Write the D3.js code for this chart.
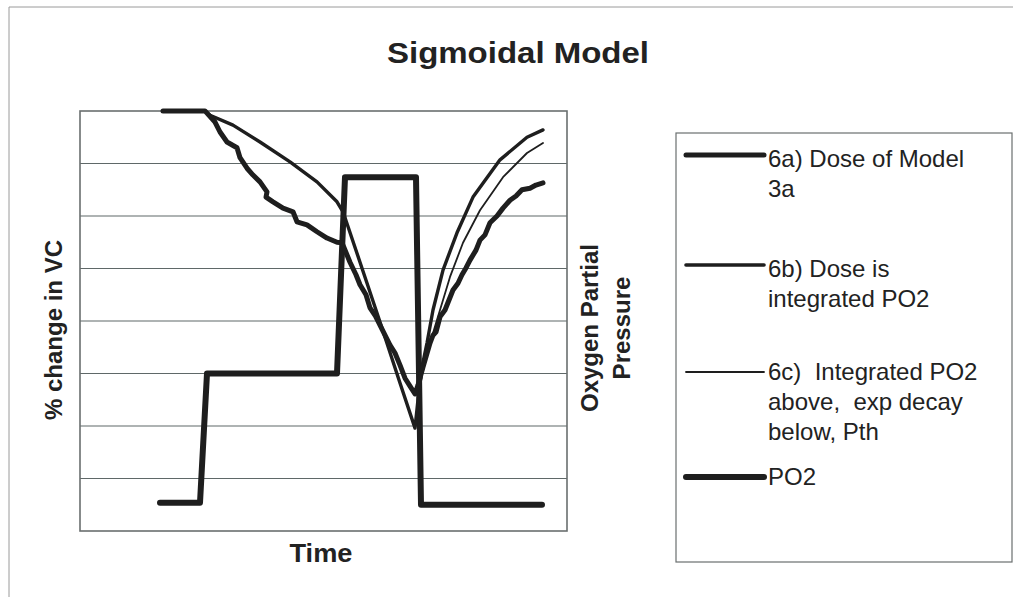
<!DOCTYPE html>
<html>
<head>
<meta charset="utf-8">
<script src="https://cdn.jsdelivr.net/npm/d3@7"></script>
<style>
  html, body { margin: 0; padding: 0; background: #fff; }
  svg { display: block; }
  text { font-family: "Liberation Sans", Arial, sans-serif; fill: #222; }
</style>
</head>
<body>
<svg id="chart" width="1013" height="597"></svg>
<script>
// Time axis (arbitrary units) and % change in vital capacity
const gridValues = [-70, -60, -50, -40, -30, -20, -10];

// 6a) Dose of Model 3a
const time6a = [16.6, 25.0, 25.4, 27.0, 28.0, 29.4, 31.4, 32.0, 33.4, 34.6, 36.0, 37.4, 37.2, 38.6, 40.6,
  42.6, 43.4, 45.4, 47.4, 49.4, 51.4, 52.4, 54.0, 55.2, 56.0, 57.2, 58.0, 59.0, 60.0, 61.0, 62.0, 63.0,
  64.0, 65.0, 66.0, 67.0, 67.6, 68.6, 70.0, 70.6, 71.2, 72.0, 73.0, 73.8, 74.6, 75.6, 76.4, 77.2, 78.0,
  79.2, 80.0, 81.0, 82.0, 83.4, 84.6, 86.0, 87.2, 88.4, 90.0, 91.2, 92.6];
const vc6a = [0, 0, -0.4, -2.1, -4.0, -5.9, -7.0, -8.9, -10.9, -12.2, -13.5, -15.4, -16.4, -17.3, -18.5,
  -19.2, -21.1, -21.7, -23.0, -24.2, -25.0, -25.1, -28.8, -31.2, -33.1, -35.0, -37.5, -38.9, -40.8, -42.7,
  -44.6, -46.1, -48.4, -50.9, -52.4, -53.9, -52.2, -48.8, -44.2, -42.7, -42.1, -39.2, -37.9, -36.0, -34.1,
  -32.8, -31.2, -29.9, -28.4, -26.5, -24.6, -23.6, -21.3, -20.0, -18.5, -17.0, -16.2, -15.0, -14.7, -14.1, -13.7];

// 6b) Dose is integrated PO2
const time6b = [16.6, 25.0, 26.0, 30.6, 36.0, 42.0, 47.4, 51.4, 52.6, 56.0, 60.0, 64.0, 67.0, 67.6,
  68.4, 69.4, 70.6, 72.6, 75.4, 78.6, 84.0, 89.4, 92.6];
const vc6b = [0, 0, -0.8, -2.7, -5.9, -9.7, -13.5, -17.3, -19.2, -28.8, -40.2, -51.8, -60.4, -55.0,
  -48.8, -44.2, -37.9, -30.3, -23.2, -16.4, -9.3, -5.0, -3.6];

// 6c) Integrated PO2 above, exp decay below, Pth
const time6c = [16.6, 25.0, 26.0, 30.6, 36.0, 42.0, 47.4, 51.4, 52.6, 56.0, 60.0, 64.0, 67.0, 67.8,
  68.4, 70.0, 72.0, 74.0, 76.6, 80.0, 84.6, 89.4, 92.6];
const vc6c = [0, 0, -0.8, -2.7, -5.9, -9.7, -13.5, -17.3, -19.2, -28.8, -40.2, -51.8, -60.4, -54.1,
  -50.3, -44.2, -37.9, -31.6, -25.1, -18.9, -12.6, -8.0, -6.1];

// Oxygen partial pressure (secondary axis)
const timePO2 = [16.0, 24.0, 25.4, 51.4, 53.0, 67.2, 68.2, 92.4];
const valPO2 = [0.27, 0.27, 1.50, 1.50, 3.37, 3.37, 0.25, 0.25];

const legendLabels = [
  ["6a) Dose of Model", "3a"],
  ["6b) Dose is", "integrated PO2"],
  ["6c)  Integrated PO2", "above,  exp decay", "below, Pth"],
  ["PO2"]
];

const ink = "#1e1e1e";
const svg = d3.select("#chart");

// outer chart border (top and left edges)
svg.append("path")
  .attr("d", "M9,597 L9,7 L1013,7")
  .attr("fill", "none").attr("stroke", "#9a9a9a").attr("stroke-width", 1);

const plot = { left: 80, right: 567, top: 111, bottom: 531 };
const x = d3.scaleLinear().domain([0, 97.4]).range([plot.left, plot.right]);
const y = d3.scaleLinear().domain([-80, 0]).range([plot.bottom, plot.top]);
const y2 = d3.scaleLinear().domain([0, 4]).range([plot.bottom, plot.top]);

// horizontal gridlines
svg.append("g").selectAll("line").data(gridValues).join("line")
  .attr("x1", plot.left).attr("x2", plot.right)
  .attr("y1", d => y(d)).attr("y2", d => y(d))
  .attr("stroke", "#5f6868").attr("stroke-width", 1.2);

// plot frame
svg.append("rect")
  .attr("x", plot.left).attr("y", plot.top)
  .attr("width", plot.right - plot.left).attr("height", plot.bottom - plot.top)
  .attr("fill", "none").attr("stroke", "#6a6f6f").attr("stroke-width", 1.6);

const line = d3.line().x(d => x(d[0])).y(d => y(d[1]));
const line2 = d3.line().x(d => x(d[0])).y(d => y2(d[1]));

const series = [
  { t: timePO2, v: valPO2, w: 6, gen: line2 },
  { t: time6c, v: vc6c, w: 1.8, gen: line },
  { t: time6b, v: vc6b, w: 3.4, gen: line },
  { t: time6a, v: vc6a, w: 5, gen: line }
];
series.forEach(s => {
  svg.append("path")
    .datum(d3.zip(s.t, s.v))
    .attr("d", s.gen)
    .attr("fill", "none")
    .attr("stroke", ink)
    .attr("stroke-width", s.w)
    .attr("stroke-linejoin", "round")
    .attr("stroke-linecap", "round");
});

// title
svg.append("text")
  .attr("x", 518).attr("y", 63)
  .attr("text-anchor", "middle")
  .attr("font-size", 30).attr("font-weight", "bold")
  .attr("textLength", 262).attr("lengthAdjust", "spacingAndGlyphs")
  .text("Sigmoidal Model");

// x axis title
svg.append("text")
  .attr("x", 321).attr("y", 562)
  .attr("text-anchor", "middle")
  .attr("font-size", 25).attr("font-weight", "bold")
  .attr("textLength", 63).attr("lengthAdjust", "spacingAndGlyphs")
  .text("Time");

// left axis title
svg.append("text")
  .attr("transform", "translate(62,330) rotate(-90)")
  .attr("text-anchor", "middle")
  .attr("font-size", 24).attr("font-weight", "bold")
  .text("% change in VC");

// right axis title
const rt = svg.append("text")
  .attr("transform", "translate(598,328) rotate(-90)")
  .attr("text-anchor", "middle")
  .attr("font-size", 24).attr("font-weight", "bold");
rt.append("tspan").attr("x", 0).attr("dy", 0).text("Oxygen Partial");
rt.append("tspan").attr("x", 0).attr("dy", 32).text("Pressure");

// legend
svg.append("rect")
  .attr("x", 676).attr("y", 133)
  .attr("width", 336).attr("height", 429)
  .attr("fill", "none").attr("stroke", "#6a6f6f").attr("stroke-width", 1.2);

const legendY = [155, 265, 372, 477];
const legendBase = [167, 277, 380, 485];
const legendW = [5, 3.6, 1.8, 6];
legendLabels.forEach((lines, i) => {
  svg.append("line")
    .attr("x1", 686).attr("x2", 764)
    .attr("y1", legendY[i]).attr("y2", legendY[i])
    .attr("stroke", ink).attr("stroke-width", legendW[i])
    .attr("stroke-linecap", "round");
  const t = svg.append("text")
    .attr("x", 768).attr("y", legendBase[i])
    .attr("font-size", 24)
    .attr("xml:space", "preserve");
  lines.forEach((s, j) => {
    t.append("tspan").attr("x", 768).attr("dy", j === 0 ? 0 : 30).text(s);
  });
});
</script>
</body>
</html>
